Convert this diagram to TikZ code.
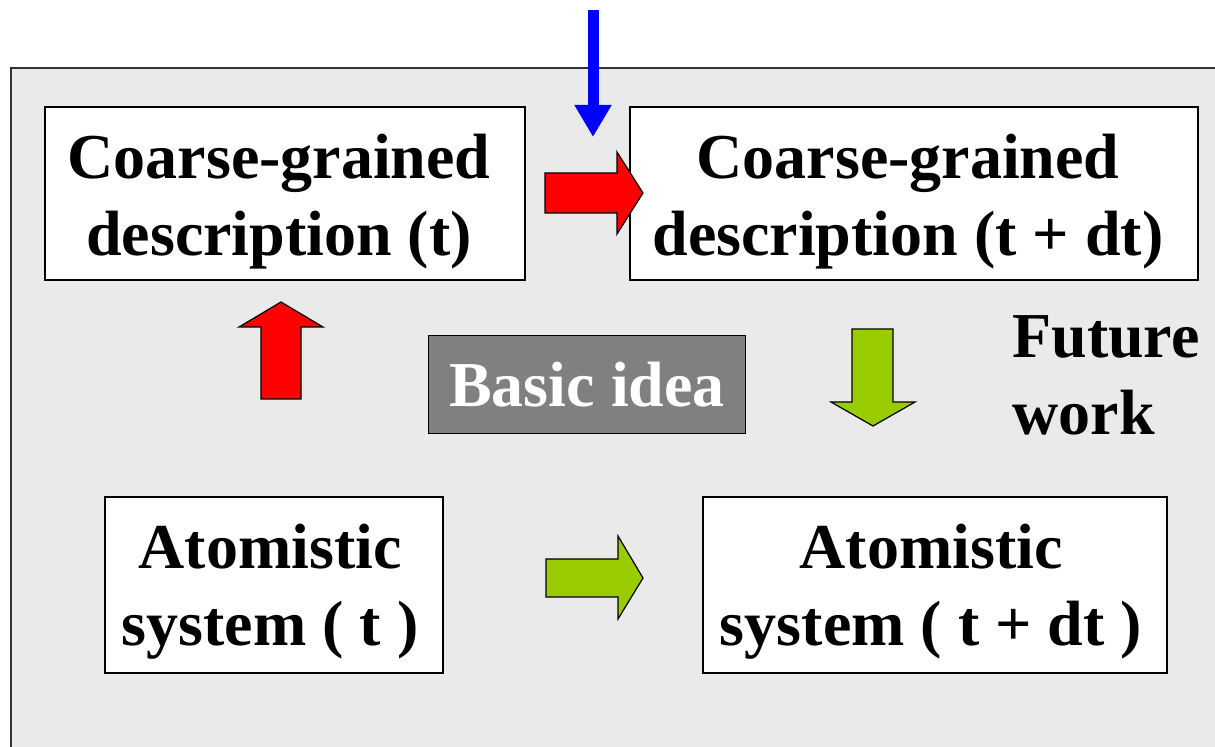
\documentclass[tikz,border=0pt]{standalone}
\usepackage{fontspec}
\setmainfont{Liberation Serif}
\usetikzlibrary{arrows.meta}
\definecolor{panelgray}{HTML}{EAEAEA}
\definecolor{basicgray}{HTML}{808080}
\definecolor{arrowred}{HTML}{FF0000}
\definecolor{arrowgreen}{HTML}{99CC00}
\begin{document}
\begin{tikzpicture}[x=0.5pt,y=-0.5pt,
  bigtext/.style={font=\bfseries\fontsize{32}{38.5}\selectfont, align=center, inner sep=0pt},
  boxshape/.style={draw=black, fill=white, line width=0.9pt, inner sep=0pt},
  blockarrow/.style={draw=black, line width=0.6pt, line join=miter}]
\useasboundingbox (0,0) rectangle (1215,747);
\clip (0,0) rectangle (1215,747);
\fill[white] (0,0) rectangle (1215,747);
% panel
\draw[fill=panelgray, draw=black!80, line width=0.9pt] (11,68) rectangle (1260,800);

% boxes
\node[boxshape, minimum width=240pt, minimum height=86.5pt] (cgt) at (285,193.5) {};
\node[boxshape, minimum width=284pt, minimum height=86.5pt] (cgdt) at (914,193.5) {};
\node[boxshape, minimum width=169pt, minimum height=88pt] (att) at (274,585) {};
\node[boxshape, minimum width=232pt, minimum height=88pt] (atdt) at (935,585) {};
\node[draw=black, fill=basicgray, line width=0.9pt, minimum width=158.5pt, minimum height=49pt, inner sep=0pt] (basic) at (587,384.5) {};

% texts
\node[bigtext] (cgtlabel) at ([xshift=-3pt,yshift=-4.2pt]cgt.center) {Coarse-grained\\description (t)};
\node[bigtext] (cgdtlabel) at ([xshift=-3pt,yshift=-4.2pt]cgdt.center) {Coarse-grained\\description (t + dt)};
\node[bigtext] (attlabel) at ([xshift=-2pt,yshift=-3.5pt]att.center) {Atomistic\\system ( t )};
\node[bigtext] (atdtlabel) at ([xshift=-2pt,yshift=-3.5pt]atdt.center) {Atomistic\\system ( t + dt )};
\node[bigtext, text=white] (basiclabel) at (basic.center) {Basic idea};
\node[bigtext, align=left, anchor=west] (future) at (1012,375) {Future\\work};

% blue arrow
\coordinate (bluetop) at (593,10);
\coordinate (bluetip) at (593,137);
\draw[draw=blue, line width=5.5pt, -{Triangle[width=17.5pt,length=16pt]}, blue] (bluetop) -- (bluetip);

% red right arrow
\draw[blockarrow, fill=arrowred] (545,173) -- (617,173) -- (617,152) -- (643,193) -- (617,234) -- (617,213) -- (545,213) -- cycle;
% red up arrow
\draw[blockarrow, fill=arrowred] (261,399) -- (261,327) -- (239,327) -- (281,302) -- (323,327) -- (301,327) -- (301,399) -- cycle;
% green down arrow
\draw[blockarrow, fill=arrowgreen] (852,329) -- (893,329) -- (893,402) -- (915,402) -- (873,426) -- (831,402) -- (852,402) -- cycle;
% green right arrow
\draw[blockarrow, fill=arrowgreen] (546,559) -- (618,559) -- (618,536) -- (643,578) -- (618,619) -- (618,597) -- (546,597) -- cycle;
\end{tikzpicture}
\end{document}
